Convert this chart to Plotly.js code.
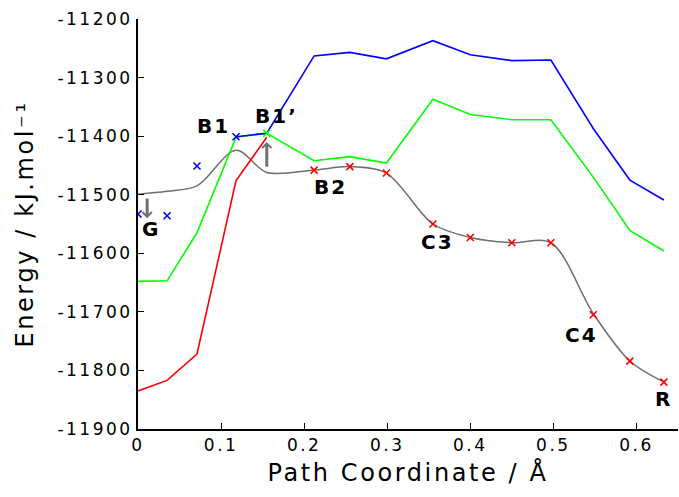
<!DOCTYPE html>
<html>
<head>
<meta charset="utf-8">
<script src="https://cdn.plot.ly/plotly-3.0.1.min.js"></script>
<style>
  html, body { margin: 0; padding: 0; background: #fff; }
  #chart { width: 679px; height: 497px; }
  .xtick text, .ytick text { letter-spacing: 2.5px; }
  text.xtitle, text.ytitle { letter-spacing: 2.6px; }
  .annotation-text { letter-spacing: 2px; }
</style>
</head>
<body>
<div id="chart"></div>
<script>
// Path coordinate of each image along the path (Å)
const pathX = [0, 0.035, 0.071, 0.118, 0.155, 0.212, 0.255, 0.299, 0.355, 0.400, 0.450, 0.497, 0.548, 0.592, 0.633];

// Blue path (starts at B1)
const blueX = [0.118, 0.155, 0.212, 0.255, 0.299, 0.355, 0.400, 0.450, 0.497, 0.548, 0.592, 0.633];
const blueY = [-11401, -11395, -11263, -11257, -11268, -11237, -11261, -11271, -11270, -11387, -11475, -11509];

// Blue single points (crosses)
const blueMarkX = [0, 0.035, 0.071, 0.118];
const blueMarkY = [-11533, -11536, -11451, -11401];

// Green path (full)
const greenY = [-11648, -11647, -11565, -11402, -11395, -11442, -11435, -11446, -11337, -11363, -11372, -11372, -11470, -11561, -11596];
const greenMarkX = [0.155];
const greenMarkY = [-11395];

// Red path (up to B1')
const redX = [0, 0.035, 0.071, 0.118, 0.155];
const redY = [-11835, -11817, -11772, -11476, -11402];

// Red crosses (B2 ... R)
const redMarkX = [0.212, 0.255, 0.299, 0.355, 0.400, 0.450, 0.497, 0.548, 0.592, 0.633];
const redMarkY = [-11458, -11452, -11463, -11550, -11573, -11582, -11582, -11705, -11784, -11820];

// Grey smooth minimum-energy curve
const greyY = [-11499, -11494, -11485, -11424, -11462, -11458, -11452, -11463, -11550, -11573, -11582, -11582, -11703, -11784, -11820];

// Ticks
const xTickVals = [0, 0.1, 0.2, 0.3, 0.4, 0.5, 0.6];
const xTickText = ['0', '0.1', '0.2', '0.3', '0.4', '0.5', '0.6'];
const yTickVals = [-11900, -11800, -11700, -11600, -11500, -11400, -11300, -11200];
const yTickText = ['-11900', '-11800', '-11700', '-11600', '-11500', '-11400', '-11300', '-11200'];

// Point labels
const labelText = ['B1', 'B1\u2019', 'G', 'B2', 'C3', 'C4', 'R'];
const labelX = [0.091, 0.167, 0.0156, 0.232, 0.360, 0.534, 0.633];
const labelY = [-11382, -11365, -11558, -11486, -11580, -11739, -11848];

// Arrows (tail -> head)
const arrowTailX = [0.011, 0.155];
const arrowTailY = [-11504, -11455];
const arrowHeadX = [0.011, 0.155];
const arrowHeadY = [-11540, -11410];

const traces = [
  { x: pathX, y: greyY, mode: 'lines', line: { color: '#6e6e6e', width: 1.5, shape: 'spline', smoothing: 0.9 } },
  { x: pathX, y: greenY, mode: 'lines', line: { color: '#00ff00', width: 1.6 } },
  { x: redX, y: redY, mode: 'lines', line: { color: '#ff0000', width: 1.6 } },
  { x: blueX, y: blueY, mode: 'lines', line: { color: '#0000ff', width: 1.6 } },
  { x: blueMarkX, y: blueMarkY, mode: 'markers', marker: { symbol: 'x-thin', size: 7, line: { color: '#0000ff', width: 1.6 } } },
  { x: greenMarkX, y: greenMarkY, mode: 'markers', marker: { symbol: 'x-thin', size: 7, line: { color: '#00ff00', width: 1.6 } } },
  { x: redMarkX, y: redMarkY, mode: 'markers', marker: { symbol: 'x-thin', size: 7, line: { color: '#ff0000', width: 1.6 } } },
];

const annotations = [];
for (let i = 0; i < labelText.length; i++) {
  annotations.push({
    x: labelX[i], y: labelY[i], xref: 'x', yref: 'y', text: '<b>' + labelText[i] + '</b>',
    showarrow: false, xanchor: 'center', yanchor: 'middle',
    font: { family: 'DejaVu Sans', size: 20, color: '#000' }
  });
}
for (let i = 0; i < arrowHeadX.length; i++) {
  annotations.push({
    x: arrowHeadX[i], y: arrowHeadY[i], ax: arrowTailX[i], ay: arrowTailY[i],
    xref: 'x', yref: 'y', axref: 'x', ayref: 'y', text: '',
    showarrow: true, arrowhead: 4, arrowsize: 0.6, arrowwidth: 3, arrowcolor: '#707070', standoff: 0
  });
}

const axisCommon = {
  showgrid: false, zeroline: false, showline: true, linecolor: '#000',
  ticks: 'inside', ticklen: 6, tickwidth: 1, tickcolor: '#000'
};

const layout = {
  width: 679, height: 497,
  margin: { l: 138, r: 1, t: 19, b: 68, pad: 0 },
  paper_bgcolor: '#fff', plot_bgcolor: '#fff',
  showlegend: false,
  font: { family: 'DejaVu Sans', color: '#000' },
  xaxis: Object.assign({}, axisCommon, {
    range: [0, 0.65], linewidth: 2, tickvals: xTickVals, ticktext: xTickText,
    tickfont: { size: 17, color: '#000' },
    title: { text: 'Path Coordinate / Å', font: { size: 24, color: '#000' }, standoff: 10 }
  }),
  yaxis: Object.assign({}, axisCommon, {
    range: [-11900, -11200], linewidth: 2, tickvals: yTickVals, ticktext: yTickText,
    tickfont: { size: 17, color: '#000' },
    title: { text: 'Energy / kJ.mol⁻¹', font: { size: 24, color: '#000' }, standoff: 17 }
  }),
  xaxis2: Object.assign({}, axisCommon, {
    range: [0, 0.65], overlaying: 'x', side: 'top', anchor: 'y', linewidth: 1,
    tickvals: xTickVals, showticklabels: false
  }),
  yaxis2: Object.assign({}, axisCommon, {
    range: [-11900, -11200], overlaying: 'y', side: 'right', anchor: 'x', linewidth: 1,
    tickvals: yTickVals, showticklabels: false
  }),
  annotations: annotations
};

Plotly.newPlot('chart', traces, layout, { displayModeBar: false, staticPlot: true });
</script>
</body>
</html>
